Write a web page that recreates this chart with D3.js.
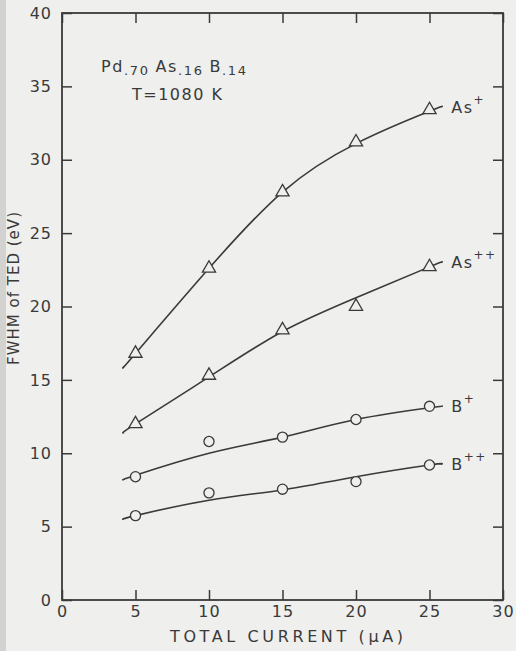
<!DOCTYPE html>
<html>
<head>
<meta charset="utf-8">
<script src="https://cdn.jsdelivr.net/npm/d3@7"></script>
<style>
    body { margin: 0; background: #efefed; }
    svg text { font-family: "DejaVu Sans", sans-serif; fill: #3a3a3a; }
</style>
</head>
<body>
<svg id="chart" width="516" height="651"></svg>
<script>
// measured points (total current in uA, FWHM in eV)
var currents = [5, 10, 15, 20, 25];
var asPlus = [16.8, 22.6, 27.8, 31.2, 33.4];
var asPlusPlus = [12.0, 15.3, 18.4, 20.0, 22.7];
var bPlus = [8.4, 10.8, 11.1, 12.3, 13.2];
var bPlusPlus = [5.75, 7.3, 7.55, 8.07, 9.2];

// hand drawn fit curves
var fitCurrents = [4.2, 5, 10, 15, 20, 25, 25.8];
var asPlusFit = [15.9, 16.8, 22.6, 27.8, 31.1, 33.3, 33.6];
var asPlusPlusFit = [11.4, 12.0, 15.2, 18.3, 20.6, 22.7, 23.0];
var bPlusFit = [8.2, 8.5, 10.0, 11.1, 12.3, 13.1, 13.2];
var bPlusPlusFit = [5.5, 5.75, 6.8, 7.5, 8.4, 9.2, 9.25];

var xTicks = [0, 5, 10, 15, 20, 25, 30];
var yTicks = [0, 5, 10, 15, 20, 25, 30, 35, 40];

var seriesList = [
    {name: "As", sup: "+", values: asPlus, fit: asPlusFit, marker: "triangle"},
    {name: "As", sup: "++", values: asPlusPlus, fit: asPlusPlusFit, marker: "triangle"},
    {name: "B", sup: "+", values: bPlus, fit: bPlusFit, marker: "circle"},
    {name: "B", sup: "++", values: bPlusPlus, fit: bPlusPlusFit, marker: "circle"}
];

var ink = "#3a3a3a";
var svg = d3.select("#chart");

// scan edge on the left
svg.append("rect").attr("x", 0).attr("y", 0).attr("width", 6).attr("height", 651).attr("fill", "#d2d2d0");

var x = d3.scaleLinear().domain([0, 30]).range([62, 503]);
var y = d3.scaleLinear().domain([0, 40]).range([600, 13]);

function styleAxis(g){
    g.select(".domain").remove();
    g.selectAll(".tick line").attr("stroke", ink).attr("stroke-width", 1.5);
    g.selectAll(".tick text").attr("font-size", 16).attr("letter-spacing", 1).attr("fill", ink);
}

svg.append("g").attr("transform", "translate(0,600)")
    .call(d3.axisBottom(x).tickValues(xTicks).tickSize(-10).tickPadding(6).tickFormat(d3.format("d")))
    .call(styleAxis);
svg.append("g").attr("transform", "translate(0,13)")
    .call(d3.axisTop(x).tickValues(xTicks).tickSize(-10).tickFormat(""))
    .call(styleAxis);
svg.append("g").attr("transform", "translate(62,0)")
    .call(d3.axisLeft(y).tickValues(yTicks).tickSize(-10).tickPadding(10).tickFormat(d3.format("d")))
    .call(styleAxis);
svg.append("g").attr("transform", "translate(503,0)")
    .call(d3.axisRight(y).tickValues(yTicks).tickSize(-10).tickFormat(""))
    .call(styleAxis);

// frame
svg.append("rect")
    .attr("x", x(0)).attr("y", y(40))
    .attr("width", x(30) - x(0)).attr("height", y(0) - y(40))
    .attr("fill", "none").attr("stroke", ink).attr("stroke-width", 1.8);

var line = d3.line()
    .x(function(d){ return x(d[0]); })
    .y(function(d){ return y(d[1]); })
    .curve(d3.curveNatural);

var triangle = d3.symbol().type(d3.symbolTriangle).size(75);
var circle = d3.symbol().type(d3.symbolCircle).size(80);

seriesList.forEach(function(s){
    var fitPoints = fitCurrents.map(function(c, i){ return [c, s.fit[i]]; });
    svg.append("path")
        .attr("d", line(fitPoints))
        .attr("fill", "none").attr("stroke", ink).attr("stroke-width", 1.6);

    svg.selectAll(null).data(currents).enter()
        .append("path")
        .attr("transform", function(d, i){ return "translate(" + x(d) + "," + y(s.values[i]) + ")"; })
        .attr("d", s.marker == "triangle" ? triangle : circle)
        .attr("fill", "#efefed").attr("stroke", ink).attr("stroke-width", 1.3);

    var last = fitPoints[fitPoints.length - 1];
    var label = svg.append("text")
        .attr("x", x(last[0]) + 10).attr("y", y(last[1]) + 6)
        .attr("font-size", 16).attr("letter-spacing", 1.5);
    label.append("tspan").text(s.name);
    label.append("tspan").attr("dy", -9).attr("font-size", 12).text(s.sup);
});

// composition note
var note = svg.append("text").attr("x", 101).attr("y", 72).attr("font-size", 16)
    .attr("textLength", 145).attr("lengthAdjust", "spacing");
note.append("tspan").text("Pd");
note.append("tspan").attr("dy", 3).attr("font-size", 13).text(".70 ");
note.append("tspan").attr("dy", -3).text("As");
note.append("tspan").attr("dy", 3).attr("font-size", 13).text(".16 ");
note.append("tspan").attr("dy", -3).text("B");
note.append("tspan").attr("dy", 3).attr("font-size", 13).text(".14");
svg.append("text").attr("x", 132).attr("y", 99.5).attr("font-size", 16)
    .attr("textLength", 90).attr("lengthAdjust", "spacing").text("T=1080 K");

// axis titles
svg.append("text")
    .attr("x", 170).attr("y", 642)
    .attr("font-size", 16).attr("textLength", 233).attr("lengthAdjust", "spacing")
    .text("TOTAL CURRENT  (\u03bcA)");
svg.append("text")
    .attr("transform", "translate(19,365) rotate(-90)")
    .attr("font-size", 15).attr("textLength", 153).attr("lengthAdjust", "spacing")
    .text("FWHM of TED  (eV)");
</script>
</body>
</html>
